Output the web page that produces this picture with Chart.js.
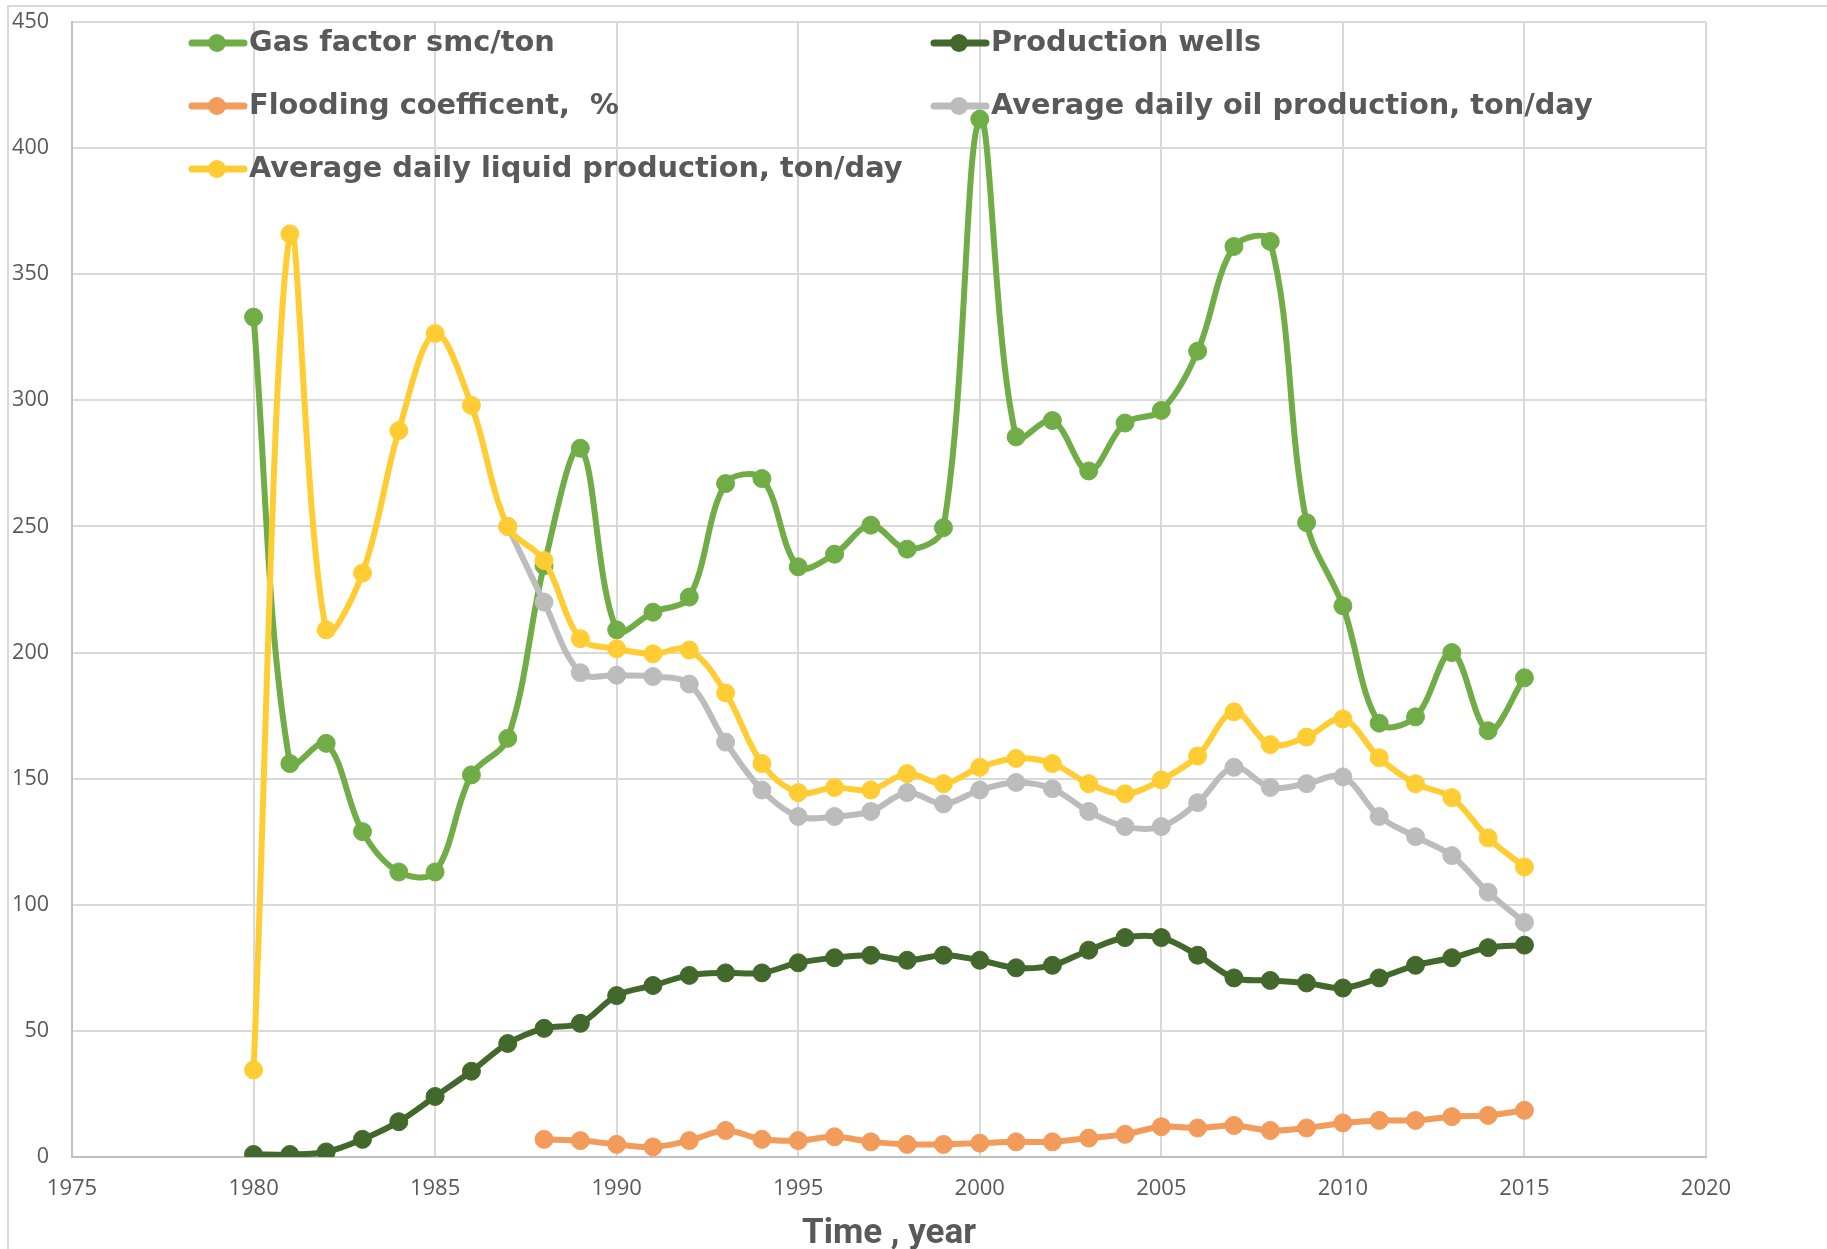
<!DOCTYPE html>
<html>
<head>
<meta charset="utf-8">
<script src="https://cdn.jsdelivr.net/npm/chart.js@4/dist/chart.umd.min.js"></script>
<style>
  html, body { margin: 0; padding: 0; background: #ffffff; }
  #wrap { width: 1827px; height: 1249px; }
</style>
</head>
<body>
<div id="wrap"><canvas id="chart" width="1827" height="1249"></canvas></div>
<script>
// Field history by year
const years = [1980,1981,1982,1983,1984,1985,1986,1987,1988,1989,1990,1991,1992,1993,1994,1995,1996,1997,
               1998,1999,2000,2001,2002,2003,2004,2005,2006,2007,2008,2009,2010,2011,2012,2013,2014,2015];

const gasFactor = [333,156,164,129,113,113,151.5,166,234.5,281,209,216,222,267,269,234,239,250.5,
                   241,249.5,411.5,285.5,292,272,291,296,319.5,361,363,251.5,218.5,172,174.5,200,169,190];

const productionWells = [1,1,2,7,14,24,34,45,51,53,64,68,72,73,73,77,79,80,
                         78,80,78,75,76,82,87,87,80,71,70,69,67,71,76,79,83,84];

const floodingCoeff = [null,null,null,null,null,null,null,null,7,6.5,5,4,6.5,10.5,7,6.5,8,6,
                       5,5,5.5,6,6,7.5,9,12,11.5,12.5,10.5,11.5,13.5,14.5,14.5,16,16.5,18.5];

const oilRate = [null,null,null,null,null,null,null,250,220,192,191,190.5,187.5,164.5,145.5,135,135,137,
                 144.5,140,145.5,148.5,146,137,131,131,140.5,154.5,146.5,148,150.7,135,127,119.5,105,93];

const liquidRate = [34.5,366,209,231.5,288,326.5,298,250,236.5,205.5,201.5,199.5,201,184,156,144.5,146.5,145.5,
                    152,148,154.5,158,156,148,144,149.5,159,176.5,163.5,166.5,173.7,158.3,148,142.5,126.5,115];

const seriesLabels = [
  'Gas factor smc/ton',
  'Production wells',
  'Flooding coefficent,  %',
  'Average daily oil production, ton/day',
  'Average daily liquid production, ton/day'
];
const seriesValues = [gasFactor, productionWells, floodingCoeff, oilRate, liquidRate];
const seriesColors = ['#70AD47', '#43682B', '#F29B5B', '#BCBCBC', '#FFCD33'];
const drawOrder = [5, 4, 3, 2, 1];

const xTicks = [1975, 1980, 1985, 1990, 1995, 2000, 2005, 2010, 2015, 2020];
const yTicks = [0, 50, 100, 150, 200, 250, 300, 350, 400, 450];

const textGray = '#595959';

const datasets = seriesValues.map((vals, i) => ({
  label: seriesLabels[i],
  data: years.map((y, k) => ({ x: y, y: vals[k] })),
  borderColor: seriesColors[i],
  backgroundColor: seriesColors[i],
  pointBackgroundColor: seriesColors[i],
  pointBorderColor: seriesColors[i],
  borderWidth: 6,
  pointRadius: 9,
  pointHoverRadius: 9,
  pointBorderWidth: 1,
  tension: 0.35,
  spanGaps: false,
  fill: false,
  order: drawOrder[i]
}));

// Light frame around the whole chart
const frame = {
  id: 'frame',
  beforeDraw(chart) {
    const ctx = chart.ctx;
    ctx.save();
    ctx.strokeStyle = '#D9D9D9';
    ctx.lineWidth = 2;
    ctx.strokeRect(8, 6, chart.width + 10, chart.height + 10);
    ctx.restore();
  }
};

// Two-column legend placed inside the plot area
const gridLegend = {
  id: 'gridLegend',
  beforeDatasetsDraw(chart) {
    const ctx = chart.ctx;
    const colX = [189, 931];
    const rowY = [43, 106, 169];
    ctx.save();
    chart.data.datasets.forEach((ds, i) => {
      const x = colX[i % 2];
      const y = rowY[Math.floor(i / 2)];
      ctx.strokeStyle = ds.borderColor;
      ctx.lineWidth = 7;
      ctx.lineCap = 'round';
      ctx.beginPath();
      ctx.moveTo(x + 3, y);
      ctx.lineTo(x + 55, y);
      ctx.stroke();
      ctx.fillStyle = ds.borderColor;
      ctx.beginPath();
      ctx.arc(x + 28, y, 9, 0, Math.PI * 2);
      ctx.fill();
      ctx.fillStyle = textGray;
      ctx.font = 'bold 28.8px "DejaVu Sans"';
      ctx.textBaseline = 'middle';
      ctx.textAlign = 'left';
      ctx.fillText(ds.label, x + 60, y + 1);
    });
    ctx.restore();
  }
};

new Chart(document.getElementById('chart'), {
  type: 'line',
  data: { datasets },
  plugins: [frame, gridLegend],
  options: {
    responsive: false,
    animation: false,
    events: [],
    layout: { padding: { top: 22, right: 121, bottom: 0, left: 0 } },
    plugins: {
      legend: { display: false },
      tooltip: { enabled: false },
      title: { display: false }
    },
    scales: {
      x: {
        type: 'linear',
        min: xTicks[0],
        max: xTicks[xTicks.length - 1],
        afterBuildTicks(scale) { scale.ticks = xTicks.map(v => ({ value: v })); },
        afterFit(scale) { scale.height = 92; },
        grid: { color: '#D9D9D9', lineWidth: 2, drawTicks: false },
        border: { color: '#BFBFBF', width: 2 },
        ticks: {
          padding: 19,
          color: textGray,
          font: { family: '"Open Sans"', size: 22 },
          callback: v => String(v),
          maxRotation: 0
        },
        title: {
          display: true,
          text: 'Time , year',
          color: textGray,
          font: { family: 'Roboto', size: 35, weight: 'bold', lineHeight: 0.85 },
          padding: { top: 0, bottom: 0 }
        }
      },
      y: {
        type: 'linear',
        min: yTicks[0],
        max: yTicks[yTicks.length - 1],
        afterBuildTicks(scale) { scale.ticks = yTicks.map(v => ({ value: v })); },
        afterFit(scale) {
          scale.width = 72;
          scale.paddingTop = 0;
          scale.paddingBottom = 0;
        },
        grid: { color: '#D9D9D9', lineWidth: 2, drawTicks: false },
        border: { color: '#BFBFBF', width: 2 },
        ticks: {
          padding: 23,
          color: textGray,
          font: { family: '"Open Sans"', size: 21.5 },
          callback: v => String(v)
        }
      }
    }
  }
});
</script>
</body>
</html>
